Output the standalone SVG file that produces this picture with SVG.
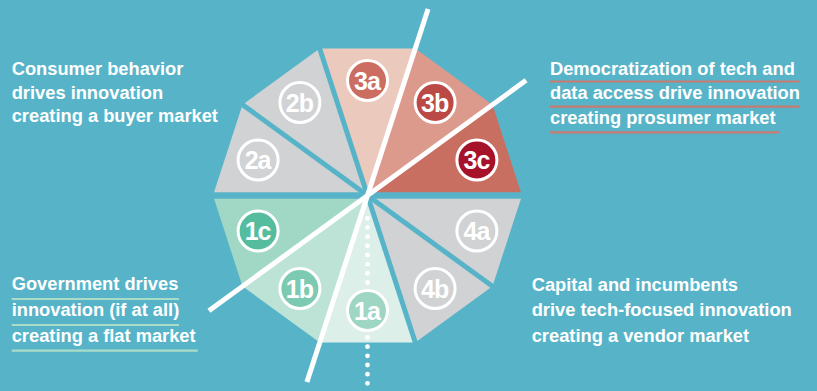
<svg xmlns="http://www.w3.org/2000/svg" width="817" height="391" viewBox="0 0 817 391">
<style>
.bg{fill:#57b4c8}
.gray{fill:#d1d2d4}
.gap{stroke:#57b4c8;stroke-width:5;stroke-linecap:butt}
.wl{stroke:#ffffff;stroke-width:5;stroke-linecap:butt}
.ring{stroke:#ffffff;stroke-width:3}
.lbl{font-family:"Liberation Sans",Arial,sans-serif;font-weight:bold;font-size:25px;fill:#ffffff;text-anchor:middle;letter-spacing:-1px}
.side{font-family:"Liberation Sans",Arial,sans-serif;font-weight:bold;font-size:18.3px;fill:#ffffff}
.ulr{stroke:#c97b70;stroke-width:2.2}
.ulg{stroke:#a8dcc9;stroke-width:2.2}
</style>
<rect class="bg" x="0" y="0" width="817" height="391"/>
<g id="wedges">
<polygon id="w4a" class="gray" points="367.5,195.5 522,195.5 492.5,286.3"/>
<polygon id="w4b" class="gray" points="367.5,195.5 492.5,286.3 415.24,342.44"/>
<polygon id="w1a" fill="#dcefe9" points="367.5,195.5 415.24,342.44 319.76,342.44"/>
<polygon id="w1b" fill="#bde3d7" points="367.5,195.5 319.76,342.44 242.5,286.3"/>
<polygon id="w1c" fill="#a0d8c5" points="367.5,195.5 242.5,286.3 213,195.5"/>
<polygon id="w2a" class="gray" points="367.5,195.5 213,195.5 242.5,104.7"/>
<polygon id="w2b" class="gray" points="367.5,195.5 242.5,104.7 319.76,48.56"/>
<polygon id="w3a" fill="#ecc9bd" points="367.5,195.5 319.76,48.56 415.24,48.56"/>
<polygon id="w3b" fill="#dc9a8d" points="367.5,195.5 415.24,48.56 492.5,104.7"/>
<polygon id="w3c" fill="#c86f62" points="367.5,195.5 492.5,104.7 522,195.5"/>
</g>
<g id="connectors">
<line class="gap" x1="210" y1="195.5" x2="525" y2="195.5" style="stroke-width:6.5"/>
<line class="gap" x1="240.1" y1="102.9" x2="494.9" y2="288.1"/>
<line class="gap" x1="318.8" y1="45.7" x2="416.2" y2="345.3"/>
<line class="wl" x1="428.07" y1="9.09" x2="306.93" y2="381.91"/>
<line class="wl" x1="526.07" y1="80.29" x2="208.93" y2="310.71"/>
<line x1="367.5" y1="218.3" x2="367.5" y2="383.4" stroke="#ffffff" stroke-width="4.8" stroke-linecap="round" stroke-dasharray="0 9.17"/>
</g>
<g id="n4a"><circle class="ring" cx="476.9" cy="231" r="20" fill="none"/><text class="lbl" x="476.4" y="240">4a</text></g>
<g id="n4b"><circle class="ring" cx="435.1" cy="288.5" r="20" fill="none"/><text class="lbl" x="434.6" y="297.5">4b</text></g>
<g id="n1a"><circle class="ring" cx="367.5" cy="310.5" r="20" fill="#9fd5c3"/><text class="lbl" x="367" y="319.5">1a</text></g>
<g id="n1b"><circle class="ring" cx="299.9" cy="288.5" r="20" fill="#7dcab2"/><text class="lbl" x="299.4" y="297.5">1b</text></g>
<g id="n1c"><circle class="ring" cx="258.1" cy="231" r="20" fill="#55bd9d"/><text class="lbl" x="257.6" y="240">1c</text></g>
<g id="n2a"><circle class="ring" cx="258.1" cy="160" r="20" fill="none"/><text class="lbl" x="257.6" y="169">2a</text></g>
<g id="n2b"><circle class="ring" cx="299.9" cy="102.5" r="20" fill="none"/><text class="lbl" x="299.4" y="111.5">2b</text></g>
<g id="n3a"><circle class="ring" cx="367.5" cy="80.5" r="20" fill="#cb6d60"/><text class="lbl" x="367" y="89.5">3a</text></g>
<g id="n3b"><circle class="ring" cx="435.1" cy="102.5" r="20" fill="#bb4a46"/><text class="lbl" x="434.6" y="111.5">3b</text></g>
<g id="n3c"><circle class="ring" cx="476.9" cy="160" r="20" fill="#a6122a"/><text class="lbl" x="476.4" y="169">3c</text></g>
<g id="t-buyer">
<text class="side" x="11.7" y="75">Consumer behavior</text>
<text class="side" x="11.7" y="98.5">drives innovation</text>
<text class="side" x="11.7" y="122">creating a buyer market</text>
</g>
<g id="t-prosumer">
<text class="side" x="550" y="74.5">Democratization of tech and</text>
<text class="side" x="550" y="99">data access drive innovation</text>
<text class="side" x="550" y="123.5">creating prosumer market</text>
<line class="ulr" x1="550" y1="81.5" x2="799.3" y2="81.5"/>
<line class="ulr" x1="550" y1="106.7" x2="799.3" y2="106.7"/>
<line class="ulr" x1="550" y1="132.3" x2="779.3" y2="132.3"/>
</g>
<g id="t-flat">
<text class="side" x="11.7" y="290">Government drives</text>
<text class="side" x="11.7" y="316">innovation (if at all)</text>
<text class="side" x="11.7" y="341.7">creating a flat market</text>
<line class="ulg" x1="11.7" y1="299" x2="179" y2="299"/>
<line class="ulg" x1="11.7" y1="325" x2="179" y2="325"/>
<line class="ulg" x1="11.7" y1="350.7" x2="197.7" y2="350.7"/>
</g>
<g id="t-vendor">
<text class="side" x="531.7" y="290.5">Capital and incumbents</text>
<text class="side" x="531.7" y="316">drive tech-focused innovation</text>
<text class="side" x="531.7" y="341.5">creating a vendor market</text>
</g>
</svg>
